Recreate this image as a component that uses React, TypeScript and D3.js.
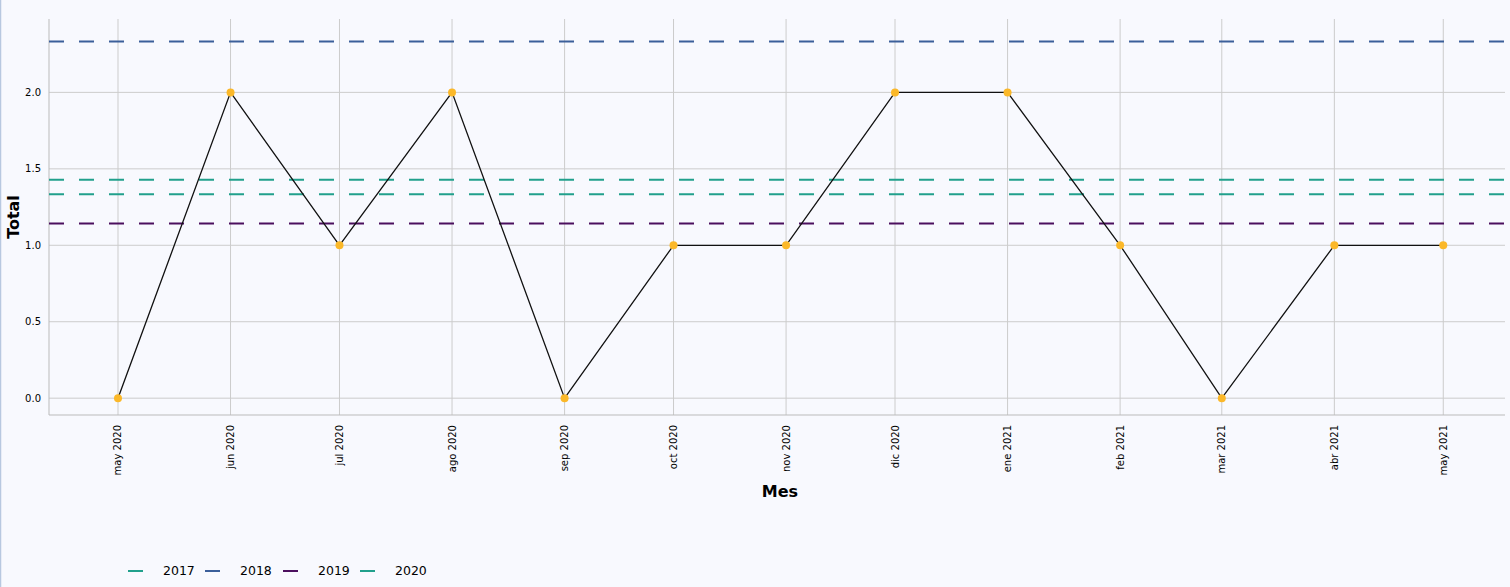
import React, { useRef, useEffect } from 'react';
import * as d3 from 'd3';

const months = ['2020-05', '2020-06', '2020-07', '2020-08', '2020-09', '2020-10', '2020-11', '2020-12', '2021-01', '2021-02', '2021-03', '2021-04', '2021-05'];
const monthLabels = ['may 2020', 'jun 2020', 'jul 2020', 'ago 2020', 'sep 2020', 'oct 2020', 'nov 2020', 'dic 2020', 'ene 2021', 'feb 2021', 'mar 2021', 'abr 2021', 'may 2021'];
const totals = [0, 2, 1, 2, 0, 1, 1, 2, 2, 1, 0, 1, 1];
const years = ['2017', '2018', '2019', '2020'];
const yearAverages = [1.4286, 2.3333, 1.1429, 1.3333];
const yearColors = ['#21a08c', '#3b5f9a', '#4b0f5e', '#21a08c'];
const yTicks = [0, 0.5, 1, 1.5, 2];

const W = 1510, H = 587;
const M = { left: 49, right: 1505, top: 19, bottom: 415 };

const App: React.FC = () => {
  const svgRef = useRef<SVGSVGElement | null>(null);

  useEffect(() => {
    const svg = d3.select(svgRef.current);
    svg.selectAll('*').remove();
    const font = 'Verdana, "DejaVu Sans", sans-serif';

    const dates = months.map(m => d3.timeParse('%Y-%m')(m) as Date);
    const x = d3.scaleTime()
      .domain([d3.timeDay.offset(dates[0], -18.5), d3.timeDay.offset(dates[12], 17.9)])
      .range([M.left, M.right]);
    const y = d3.scaleLinear().domain([-0.11, 2.48]).range([M.bottom, M.top]);

    svg.append('rect').attr('width', W).attr('height', H).attr('fill', '#f8f9fe');
    svg.append('line').attr('x1', 0.5).attr('x2', 0.5).attr('y1', 0).attr('y2', H)
      .attr('stroke', '#b8c8e0').attr('stroke-width', 1.5);

    // grid
    svg.append('g').selectAll('line').data(dates).join('line')
      .attr('x1', d => x(d)).attr('x2', d => x(d)).attr('y1', M.top).attr('y2', M.bottom)
      .attr('stroke', '#cccccc');
    svg.append('g').selectAll('line').data(yTicks).join('line')
      .attr('x1', M.left).attr('x2', M.right).attr('y1', d => y(d)).attr('y2', d => y(d))
      .attr('stroke', '#cccccc');

    // frame
    svg.append('line').attr('x1', M.left).attr('x2', M.left).attr('y1', M.top).attr('y2', M.bottom).attr('stroke', '#bbbbbb');
    svg.append('line').attr('x1', M.left).attr('x2', M.right).attr('y1', M.bottom).attr('y2', M.bottom).attr('stroke', '#bbbbbb');

    // ticks
    svg.append('g').selectAll('text').data(yTicks).join('text')
      .attr('x', M.left - 8).attr('y', d => y(d)).attr('dy', '0.35em')
      .attr('text-anchor', 'end').attr('font-family', font).attr('font-size', 10)
      .text(d => d.toFixed(1));
    svg.append('g').selectAll('text').data(dates).join('text')
      .attr('transform', d => `translate(${x(d) + 3.5},${M.bottom + 10}) rotate(-90)`)
      .attr('text-anchor', 'end').attr('font-family', font).attr('font-size', 10)
      .text((_, i) => monthLabels[i]);

    // averages
    svg.append('g').selectAll('line').data(yearAverages).join('line')
      .attr('x1', M.left).attr('x2', M.right).attr('y1', d => y(d)).attr('y2', d => y(d))
      .attr('stroke', (_, i) => yearColors[i]).attr('stroke-width', 2).attr('stroke-dasharray', '15,15');

    // series
    const line = d3.line<number>().x((_, i) => x(dates[i])).y(d => y(d));
    svg.append('path').datum(totals).attr('d', line).attr('fill', 'none').attr('stroke', '#111').attr('stroke-width', 1.3);
    svg.append('g').selectAll('circle').data(totals).join('circle')
      .attr('cx', (_, i) => x(dates[i])).attr('cy', d => y(d)).attr('r', 4).attr('fill', '#fbb829');

    // titles
    svg.append('text').attr('x', (M.left + M.right) / 2 + 3).attr('y', 497).attr('text-anchor', 'middle')
      .attr('font-family', font).attr('font-weight', 'bold').attr('font-size', 16).text('Mes');
    svg.append('text').attr('transform', `translate(19,${(M.top + M.bottom) / 2}) rotate(-90)`).attr('text-anchor', 'middle')
      .attr('font-family', font).attr('font-weight', 'bold').attr('font-size', 16).text('Total');

    // legend
    const lx = [128, 205, 283, 360];
    const lg = svg.append('g').selectAll('g').data(years).join('g')
      .attr('transform', (_, i) => `translate(${lx[i]},571)`);
    lg.append('line').attr('x1', 0).attr('x2', 15).attr('stroke', (_, i) => yearColors[i]).attr('stroke-width', 2);
    lg.append('text').attr('x', 35).attr('dy', '0.35em').attr('font-family', font).attr('font-size', 12.5).text(d => d);
  }, []);

  return <svg ref={svgRef} width={W} height={H} style={{ display: 'block', position: 'absolute', left: 0, top: 0 }} />;
};

export default App;
